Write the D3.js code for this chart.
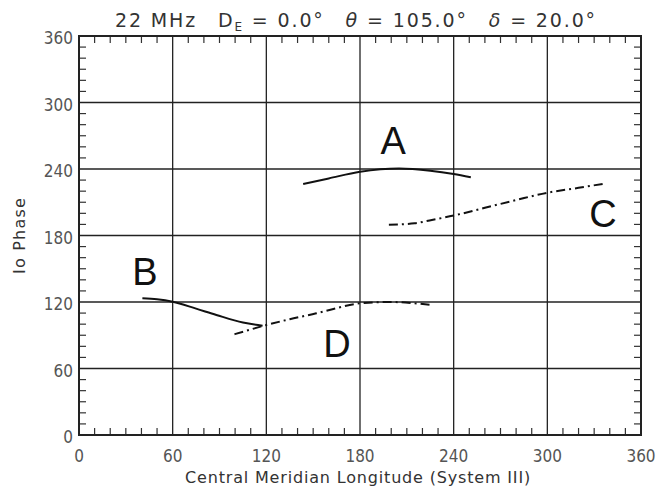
<!DOCTYPE html>
<html>
<head>
<meta charset="utf-8">
<script src="https://cdn.jsdelivr.net/npm/d3@7"></script>
<style>
  body { margin: 0; background: #fff; }
  svg { display: block; }
  text { fill: #222; }
</style>
</head>
<body>
<svg id="chart"></svg>
<script>
// curve data [longitude, phase]
const curveA = [[143.6,226.5],[160,231.5],[180,237.5],[205,240.5],[225,238.5],[240,235.5],[251,232.5]];
const curveB = [[40.6,123.3],[50,122.5],[60,120.3],[75,114],[88,108.3],[105,101.5],[117.6,98.6]];
const curveC = [[198.5,189.7],[215,191],[226,194],[240,198],[260,205],[280,212],[300,218.6],[320,223],[336,226.7]];
const curveD = [[99.6,90.9],[120,99.2],[135,104.5],[152,109.8],[165,114.5],[180,118.8],[200,120],[215,118.8],[226,117.3]];
const xTicks = [0, 60, 120, 180, 240, 300, 360];
const yTicks = [0, 60, 120, 180, 240, 300, 360];
const labels = [
  { name: "A", lon: 201.3, phase: 253.3 },
  { name: "B", lon: 42.3, phase: 135.3 },
  { name: "C", lon: 335.7, phase: 187.7 },
  { name: "D", lon: 165.3, phase: 70.4 }
];

const w = 657, h = 487;
const mLeft = 79, mRight = 641, mTop = 36, mBottom = 435;

const svg = d3.select("#chart").attr("width", w).attr("height", h);

const x = d3.scaleLinear().domain([0, 360]).range([mLeft, mRight]);
const y = d3.scaleLinear().domain([0, 360]).range([mBottom, mTop]);

// stretch a text to a target width with letter spacing
function fitWidth(sel, target) {
  const node = sel.node();
  const len = node.getComputedTextLength();
  const n = node.textContent.length;
  sel.attr("letter-spacing", (target - len) / n);
}

// grid
svg.append("g").selectAll("line").data(xTicks.slice(1, -1)).join("line")
  .attr("x1", d => x(d)).attr("x2", d => x(d))
  .attr("y1", mTop).attr("y2", mBottom)
  .attr("stroke", "#222").attr("stroke-width", 1.3);
svg.append("g").selectAll("line").data(yTicks.slice(1, -1)).join("line")
  .attr("y1", d => y(d)).attr("y2", d => y(d))
  .attr("x1", mLeft).attr("x2", mRight)
  .attr("stroke", "#222").attr("stroke-width", 1.3);

// minor ticks on all sides
const minor = d3.range(10, 360, 10).filter(v => v % 60 !== 0);
const tl = 7;
const mt = svg.append("g").attr("stroke", "#333").attr("stroke-width", 1.2);
mt.selectAll(".bt").data(minor).join("line").attr("class", "bt")
  .attr("x1", d => x(d)).attr("x2", d => x(d)).attr("y1", mBottom).attr("y2", mBottom - tl);
mt.selectAll(".tt").data(minor).join("line").attr("class", "tt")
  .attr("x1", d => x(d)).attr("x2", d => x(d)).attr("y1", mTop).attr("y2", mTop + tl);
mt.selectAll(".lt").data(minor).join("line").attr("class", "lt")
  .attr("y1", d => y(d)).attr("y2", d => y(d)).attr("x1", mLeft).attr("x2", mLeft + tl);
mt.selectAll(".rt").data(minor).join("line").attr("class", "rt")
  .attr("y1", d => y(d)).attr("y2", d => y(d)).attr("x1", mRight).attr("x2", mRight - tl);

// frame
svg.append("rect")
  .attr("x", mLeft).attr("y", mTop)
  .attr("width", mRight - mLeft).attr("height", mBottom - mTop)
  .attr("fill", "none").attr("stroke", "#222").attr("stroke-width", 2);

// tick labels
const tickFont = "'DejaVu Sans Condensed', 'DejaVu Sans', sans-serif";
const textFont = "'DejaVu Sans', sans-serif";
svg.append("g").selectAll("text").data(xTicks).join("text")
  .attr("x", d => x(d)).attr("y", 462)
  .attr("text-anchor", "middle")
  .attr("font-family", tickFont).attr("font-stretch", "condensed").attr("font-size", 17)
  .style("fill", "#555")
  .text(d => d);
svg.append("g").selectAll("text").data(yTicks).join("text")
  .attr("x", mLeft - 6).attr("y", d => y(d) + 8)
  .attr("text-anchor", "end")
  .attr("font-family", tickFont).attr("font-stretch", "condensed").attr("font-size", 17)
  .style("fill", "#555")
  .text(d => d);

// axis titles
const xTitle = svg.append("text")
  .attr("x", 185).attr("y", 483)
  .attr("font-family", textFont).attr("font-size", 16)
  .style("fill", "#333")
  .text("Central Meridian Longitude (System III)");
fitWidth(xTitle, 346);
const yTitle = svg.append("text")
  .attr("transform", "translate(25, 274) rotate(-90)")
  .attr("font-family", textFont).attr("font-size", 16)
  .style("fill", "#333")
  .text("Io Phase");
fitWidth(yTitle, 77);

// title
const title = svg.append("text")
  .attr("x", 115).attr("y", 27)
  .attr("font-family", textFont).attr("font-size", 19)
  .style("fill", "#333");
title.append("tspan").text("22 MHz\u2003D");
title.append("tspan").attr("font-size", 12).attr("dy", 4).text("E");
title.append("tspan").attr("dy", -4).text(" = 0.0°\u2003");
title.append("tspan").attr("font-style", "italic").text("θ");
title.append("tspan").text(" = 105.0°\u2003");
title.append("tspan").attr("font-style", "italic").text("δ");
title.append("tspan").text(" = 20.0°");
fitWidth(title, 482);

// curves
const line = d3.line().curve(d3.curveMonotoneX)
  .x(d => x(d[0])).y(d => y(d[1]));

svg.append("path").datum(curveA).attr("d", line)
  .attr("fill", "none").attr("stroke", "#111").attr("stroke-width", 2);
svg.append("path").datum(curveB).attr("d", line)
  .attr("fill", "none").attr("stroke", "#111").attr("stroke-width", 2);
svg.append("path").datum(curveC).attr("d", line)
  .attr("fill", "none").attr("stroke", "#111").attr("stroke-width", 2)
  .attr("stroke-dasharray", "9,4,2,4");
svg.append("path").datum(curveD).attr("d", line)
  .attr("fill", "none").attr("stroke", "#111").attr("stroke-width", 2)
  .attr("stroke-dasharray", "9,4,2,4");

// curve labels
svg.append("g").selectAll("text").data(labels).join("text")
  .attr("x", d => x(d.lon)).attr("y", d => y(d.phase))
  .attr("text-anchor", "middle")
  .attr("font-family", "'Liberation Sans', Arial, sans-serif").attr("font-size", 38)
  .style("fill", "#111")
  .text(d => d.name);
</script>
</body>
</html>
